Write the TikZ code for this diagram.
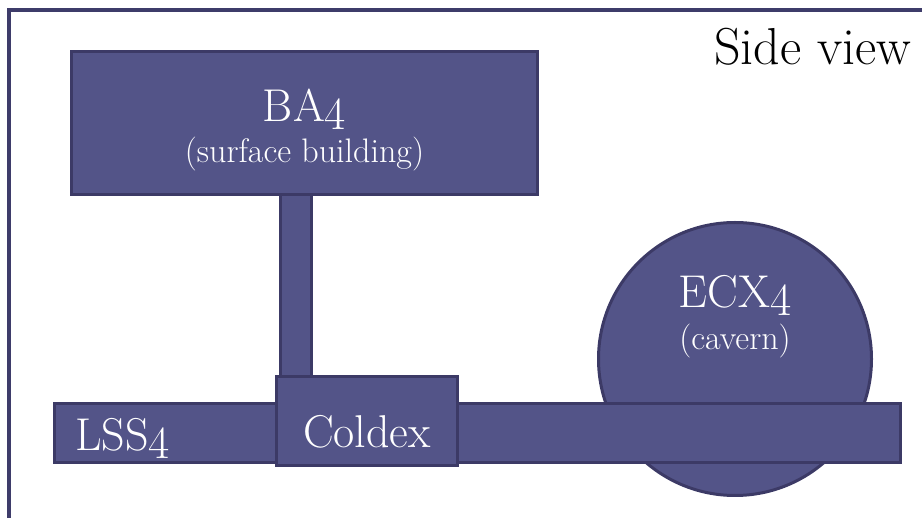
\documentclass[tikz,border=0pt]{standalone}
\definecolor{partfill}{RGB}{83,84,136}
\definecolor{partline}{RGB}{60,58,102}
\definecolor{frameline}{RGB}{62,60,106}
\newcommand\ofour{\raisebox{-0.16em}{4}}
\tikzset{
  part/.style={draw=partline, fill=partfill, line width=3pt, inner sep=0pt, outer sep=0pt},
  bigtxt/.style={text=white, inner sep=0pt, font=\fontsize{46}{50}\selectfont},
  smalltxt/.style={text=white, inner sep=0pt, font=\fontsize{34}{36}\selectfont}
}
\begin{document}
\begin{tikzpicture}[x=1pt,y=-1pt]
\useasboundingbox (0,0) rectangle (922,518);
\draw[frameline, line width=3.3pt] (9,530) -- (9,10) -- (930,10);
\node[anchor=base west, inner sep=0pt, font=\fontsize{52}{54}\selectfont] (side) at (714,65) {Side view};
\node[part, rectangle, minimum width=31, minimum height=190] (shaft) at (296,285) {};
\node[part, rectangle, minimum width=466, minimum height=143] (ba) at (304.5,123) {};
\node[part, circle, minimum size=273] (ecx) at (735,359) {};
\node[part, rectangle, minimum width=846, minimum height=59] (bar) at (477.5,433) {};
\node[part, rectangle, minimum width=181, minimum height=89] (coldex) at (367,421) {};
\node[bigtxt, anchor=base] (batxt) at (304.5,122) {BA\ofour};
\node[smalltxt, anchor=base] (basub) at (304.5,163) {(surface building)};
\node[bigtxt, anchor=base west] (lsstxt) at (75,451) {LSS\ofour};
\node[bigtxt, anchor=base] (coldtxt) at (367,448) {Coldex};
\node[bigtxt, anchor=base] (ecxtxt) at (735,308) {ECX\ofour};
\node[smalltxt, anchor=base] (ecxsub) at (735,350) {(cavern)};
\end{tikzpicture}
\end{document}
